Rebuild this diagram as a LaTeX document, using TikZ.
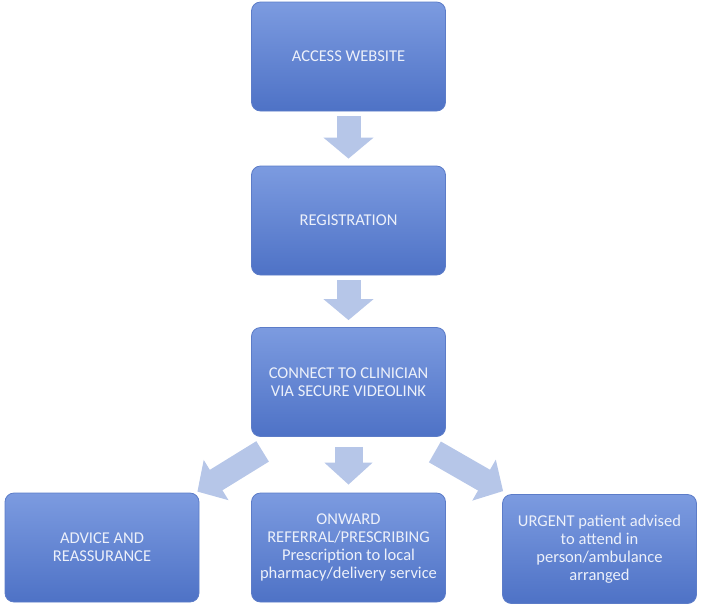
\documentclass[tikz,border=0pt]{standalone}
\usepackage{fontspec}
\setmainfont{Carlito}
\usepackage{tikz}
\usetikzlibrary{calc,arrows.meta}
\usepackage{xcolor}
\definecolor{boxtop}{RGB}{124, 155, 224}
\definecolor{boxbottom}{RGB}{78, 114, 198}
\definecolor{boxedge}{RGB}{92, 124, 200}
\definecolor{boxtext}{RGB}{236, 240, 250}
\definecolor{arrowblue}{RGB}{182, 198, 232}

\tikzset{
  stagebox/.style={rectangle, rounded corners=9pt, draw=boxedge, line width=0.8pt,
    top color=boxtop, bottom color=boxbottom, minimum width=194pt, minimum height=109pt,
    text=boxtext, align=center, font=\fontsize{16.5}{17.8}\selectfont, inner sep=2pt},
  blockarrow/.style={draw=arrowblue, line width=24pt, -{Triangle[width=49pt,length=21pt]}}
}

\begin{document}
\begin{tikzpicture}[x=1pt, y=-1pt]
                \useasboundingbox (0,0) rectangle (705,614);

                % Main chain
                \node[stagebox] (access) at (348.5,56.5) {ACCESS WEBSITE};
                \node[stagebox] (reg) at (348.5,220.5) {REGISTRATION};
                \node[stagebox] (connect) at (348.5,382) {CONNECT TO CLINICIAN\\VIA SECURE VIDEOLINK};

                % Outcomes
                \node[stagebox] (advice) at (102,547.5) {ADVICE AND\\REASSURANCE};
                \node[stagebox] (onward) at (348.5,547.5) {ONWARD\\REFERRAL/PRESCRIBING\\Prescription to local\\pharmacy/delivery service};
                \node[stagebox] (urgent) at (599.5,549) {URGENT patient advised\\to attend in\\person/ambulance\\arranged};

                % Arrows
                \draw[blockarrow, shorten <=5pt, shorten >=7pt] (access) -- (reg);
                \draw[blockarrow, shorten <=5pt, shorten >=7pt] (reg) -- (connect);
                \draw[blockarrow, line width=28pt, -{Triangle[width=47pt,length=22pt]}, shorten <=10pt, shorten >=8pt] (connect) -- (onward);
                \draw[blockarrow, -{Triangle[width=46pt,length=22pt]}] ($(connect.south west)+(11.5,14.5)$) -- ($(advice.north east)+(-2,-1)$);
                \draw[blockarrow, -{Triangle[width=46pt,length=22pt]}] ($(connect.south east)+(-11,15)$) -- ($(urgent.north west)+(1,-3)$);
            \end{tikzpicture}
\end{document}
